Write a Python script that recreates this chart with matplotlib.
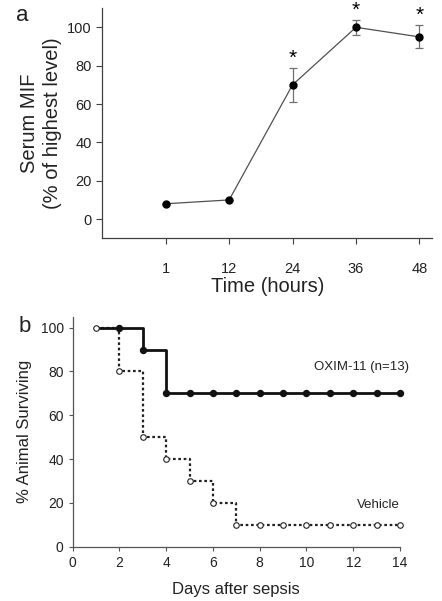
import numpy as np
import matplotlib.pyplot as plt

plt.rcParams['font.family'] = ['Liberation Sans', 'DejaVu Sans']

# Panel a: serum MIF time course
time_labels = ['1', '12', '24', '36', '48']
mif_mean = [8, 10, 70, 100, 95]
mif_err = [0, 0, 9, 4, 6]
signif = [False, False, True, True, True]

# Panel b: survival
days = list(range(1, 15))
oxim = [100, 100, 90, 70, 70, 70, 70, 70, 70, 70, 70, 70, 70, 70]
vehicle = [100, 80, 50, 40, 30, 20, 10, 10, 10, 10, 10, 10, 10, 10]

fig = plt.figure(figsize=(4.42, 6.01), dpi=100)

# ---- panel a
ax1 = fig.add_axes([0.2315, 0.6035, 0.746, 0.383])
pos = np.arange(len(time_labels))
ax1.errorbar(pos, mif_mean, yerr=mif_err, color='#505050', lw=0.9,
             ecolor='#707070', elinewidth=0.9, capsize=3, capthick=0.9,
             marker='o', ms=5, mfc='black', mec='black', zorder=3)
for x, y, e, s in zip(pos, mif_mean, mif_err, signif):
    if s:
        ax1.text(x, y + e + 5, '*', ha='center', va='center', fontsize=15,
                 clip_on=False)
ax1.set_xlim(-1, 4.2)
ax1.set_ylim(-10, 110)
ax1.set_xticks(pos)
ax1.set_xticklabels(time_labels)
ax1.set_yticks([0, 20, 40, 60, 80, 100])
ax1.spines['top'].set_visible(False)
ax1.spines['right'].set_visible(False)
for sp in ['left', 'bottom']:
    ax1.spines[sp].set_color('#404040')
    ax1.spines[sp].set_linewidth(0.9)
ax1.tick_params(labelsize=10.5, colors='#404040', labelcolor='#222222',
                length=4, width=0.8)
ax1.tick_params(axis='x', pad=13)
ax1.set_xlabel('Time (hours)', fontsize=14.5, color='#222222', labelpad=1)
ax1.set_ylabel('Serum MIF\n(% of highest level)', fontsize=14.5,
               color='#222222', labelpad=4, linespacing=1.25)
fig.text(0.05, 0.975, 'a', fontsize=16, color='#222222', ha='center', va='center')

# ---- panel b
ax2 = fig.add_axes([0.1645, 0.0903, 0.7405, 0.3827])
ax2.plot(days, vehicle, drawstyle='steps-post', ls=(0, (1.2, 1.2)), lw=1.6,
         color='#222222', zorder=2)
ax2.plot(days, vehicle, ls='none', marker='o', ms=4, mfc='white',
         mec='#222222', mew=0.8, zorder=4, clip_on=False)
ax2.plot(days, oxim, drawstyle='steps-post', lw=2, color='#111111', zorder=3)
ax2.plot(days[1:], oxim[1:], ls='none', marker='o', ms=4.3, mfc='#111111',
         mec='#111111', zorder=5, clip_on=False)
ax2.text(14.4, 82, 'OXIM-11 (n=13)', fontsize=9.5, ha='right', va='center',
         color='#222222')
ax2.text(14.0, 19, 'Vehicle', fontsize=9.5, ha='right', va='center',
         color='#222222')
ax2.set_xlim(0, 14)
ax2.set_ylim(0, 105)
ax2.set_xticks(range(0, 15, 2))
ax2.set_yticks([0, 20, 40, 60, 80, 100])
ax2.spines['top'].set_visible(False)
ax2.spines['right'].set_visible(False)
for sp in ['left', 'bottom']:
    ax2.spines[sp].set_color('#555555')
    ax2.spines[sp].set_linewidth(0.9)
ax2.tick_params(labelsize=10, colors='#555555', labelcolor='#222222',
                length=3, width=0.8)
ax2.set_xlabel('Days after sepsis', fontsize=12, color='#222222', labelpad=9)
ax2.set_ylabel('% Animal Surviving', fontsize=12, color='#222222', labelpad=6)
fig.text(0.057, 0.456, 'b', fontsize=16, color='#222222', ha='center', va='center')

fig.savefig('out.png', dpi=100)
